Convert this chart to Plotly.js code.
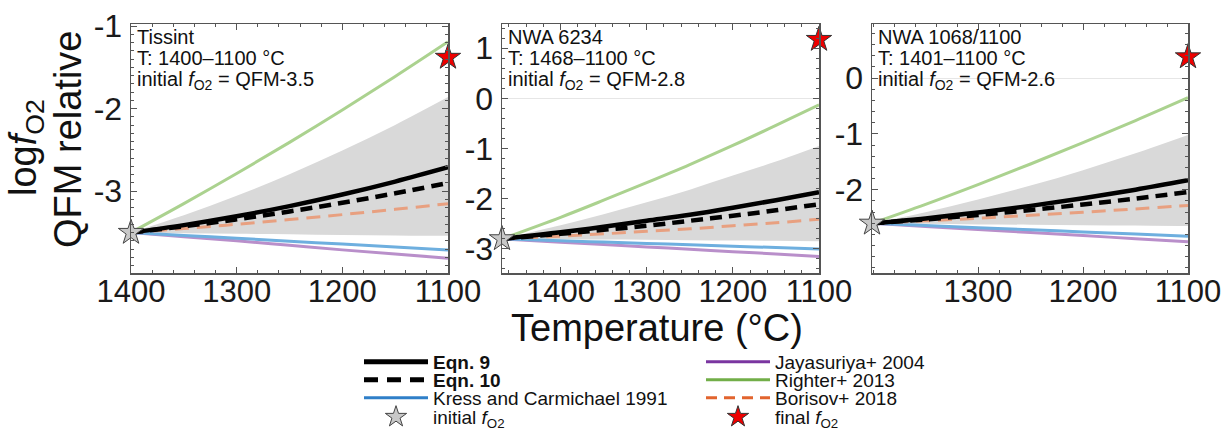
<!DOCTYPE html>
<html>
<head>
<meta charset="utf-8">
<script src="https://cdn.plot.ly/plotly-3.0.1.min.js"></script>
<style>html,body{margin:0;padding:0;background:#fff;}#chart{width:1228px;height:434px;}</style>
</head>
<body>
<div id="chart"></div>
<script>
// ---- Data ----
const panelNames = ["Tissint", "NWA 6234", "NWA 1068/1100"];
const panelTRange = ["T: 1400\u20131100 \u00b0C", "T: 1468\u20131100 \u00b0C", "T: 1401\u20131100 \u00b0C"];
const panelInitText = ["QFM-3.5", "QFM-2.8", "QFM-2.6"];

const T1 = [1400, 1350, 1300, 1250, 1200, 1150, 1100];
const T2 = [1468, 1400, 1350, 1300, 1250, 1200, 1150, 1100];
const T3 = [1401, 1350, 1300, 1250, 1200, 1150, 1100];

const eqn9_1    = [-3.5, -3.41, -3.303, -3.18, -3.04, -2.883, -2.71];
const eqn10_1   = [-3.5, -3.425, -3.34, -3.245, -3.14, -3.025, -2.90];
const kress_1   = [-3.5, -3.535, -3.57, -3.605, -3.64, -3.675, -3.71];
const jaya_1    = [-3.5, -3.55, -3.60, -3.655, -3.71, -3.76, -3.81];
const righter_1 = [-3.5, -3.15, -2.786, -2.408, -2.016, -1.61, -1.19];
const borisov_1 = [-3.5, -3.452, -3.40, -3.343, -3.283, -3.219, -3.15];
const bandHi_1  = [-3.5, -3.29, -3.055, -2.794, -2.508, -2.197, -1.86];
const bandLo_1  = [-3.5, -3.51, -3.515, -3.52, -3.53, -3.535, -3.54];

const eqn9_2    = [-2.8, -2.67, -2.56, -2.44, -2.32, -2.18, -2.03, -1.87];
const eqn10_2   = [-2.8, -2.70, -2.62, -2.54, -2.44, -2.34, -2.23, -2.11];
const kress_2   = [-2.8, -2.837, -2.864, -2.891, -2.918, -2.946, -2.973, -3.0];
const jaya_2    = [-2.8, -2.865, -2.912, -2.96, -3.007, -3.055, -3.102, -3.15];
const righter_2 = [-2.8, -2.37, -2.03, -1.68, -1.32, -0.94, -0.54, -0.13];
const borisov_2 = [-2.8, -2.745, -2.70, -2.65, -2.60, -2.54, -2.48, -2.41];
const bandHi_2  = [-2.8, -2.53, -2.31, -2.07, -1.82, -1.54, -1.26, -0.95];
const bandLo_2  = [-2.8, -2.81, -2.815, -2.82, -2.83, -2.835, -2.84, -2.85];

const eqn9_3    = [-2.6, -2.512, -2.408, -2.288, -2.151, -1.998, -1.83];
const eqn10_3   = [-2.6, -2.53, -2.451, -2.362, -2.264, -2.157, -2.04];
const kress_3   = [-2.6, -2.64, -2.68, -2.715, -2.755, -2.79, -2.83];
const jaya_3    = [-2.6, -2.655, -2.71, -2.765, -2.82, -2.875, -2.93];
const righter_3 = [-2.6, -2.26, -1.906, -1.538, -1.156, -0.76, -0.35];
const borisov_3 = [-2.6, -2.556, -2.508, -2.457, -2.402, -2.343, -2.28];
const bandHi_3  = [-2.6, -2.4, -2.175, -1.924, -1.648, -1.347, -1.02];
const bandLo_3  = [-2.6, -2.61, -2.62, -2.625, -2.635, -2.64, -2.65];

const initT   = [1400, 1468, 1401];
const initFO2 = [-3.5, -2.8, -2.6];
const finalT   = [1100, 1100, 1100];
const finalFO2 = [-1.38, 1.17, 0.38];

const xTicks1 = [1400, 1300, 1200, 1100];
const xTicks2 = [1400, 1300, 1200, 1100];
const xTicks3 = [1300, 1200, 1100];
const yTicks1 = [-1, -2, -3];
const yTicks2 = [1, 0, -1, -2, -3];
const yTicks3 = [0, -1, -2];

const legendNames = ["<b>Eqn. 9</b>", "<b>Eqn. 10</b>", "Kress and Carmichael 1991", "initial <i>f</i><sub>O2</sub>",
                     "Jayasuriya+ 2004", "Righter+ 2013", "Borisov+ 2018", "final <i>f</i><sub>O2</sub>"];

// ---- Styling ----
const FONT = "Liberation Sans, Arial, Helvetica, sans-serif";
const C = {
  eqn: "#000000",
  kress: "#6eafdf", jaya: "#b98fca", righter: "#abd28f", borisov: "#e8a080",
  kressL: "#2f7fc8", jayaL: "#7a35a0", righterL: "#72ae48", borisovL: "#e2642e",
  band: "#d9d9d9"
};

const panels = [
  {T: T1, e9: eqn9_1, e10: eqn10_1, kr: kress_1, ja: jaya_1, ri: righter_1, bo: borisov_1, hi: bandHi_1, lo: bandLo_1},
  {T: T2, e9: eqn9_2, e10: eqn10_2, kr: kress_2, ja: jaya_2, ri: righter_2, bo: borisov_2, hi: bandHi_2, lo: bandLo_2},
  {T: T3, e9: eqn9_3, e10: eqn10_3, kr: kress_3, ja: jaya_3, ri: righter_3, bo: borisov_3, hi: bandHi_3, lo: bandLo_3}
];

const traces = [];
panels.forEach((p, i) => {
  const xa = i === 0 ? "x" : "x" + (i + 1);
  const ya = i === 0 ? "y" : "y" + (i + 1);
  const base = {xaxis: xa, yaxis: ya, showlegend: false, hoverinfo: "skip", mode: "lines"};
  traces.push(Object.assign({}, base, {x: p.T, y: p.lo, line: {width: 0, color: C.band, shape: "spline"}}));
  traces.push(Object.assign({}, base, {x: p.T, y: p.hi, fill: "tonexty", fillcolor: C.band, line: {width: 0, color: C.band, shape: "spline"}}));
  traces.push(Object.assign({}, base, {x: p.T, y: p.ri, line: {width: 3, color: C.righter, shape: "spline"}}));
  traces.push(Object.assign({}, base, {x: p.T, y: p.ja, line: {width: 3, color: C.jaya, shape: "spline"}}));
  traces.push(Object.assign({}, base, {x: p.T, y: p.kr, line: {width: 3, color: C.kress, shape: "spline"}}));
  traces.push(Object.assign({}, base, {x: p.T, y: p.bo, line: {width: 3, color: C.borisov, dash: "14px,8px", shape: "spline"}}));
  traces.push(Object.assign({}, base, {x: p.T, y: p.e10, line: {width: 4.5, color: C.eqn, dash: "12px,7px", shape: "spline"}}));
  traces.push(Object.assign({}, base, {x: p.T, y: p.e9, line: {width: 4.5, color: C.eqn, shape: "spline"}}));
  traces.push({x: [initT[i]], y: [initFO2[i]], xaxis: xa, yaxis: ya, mode: "markers", showlegend: false, hoverinfo: "skip",
    cliponaxis: false, marker: {symbol: "star", size: 19, color: "#c8c8c8", line: {color: "#444", width: 1}}});
  traces.push({x: [finalT[i]], y: [finalFO2[i]], xaxis: xa, yaxis: ya, mode: "markers", showlegend: false, hoverinfo: "skip",
    cliponaxis: false, marker: {symbol: "star", size: 19, color: "#ee0000", line: {color: "#333", width: 1}}});
});

// legend-only entries, one legend each so rows can be packed like the reference
const legStyles = [
  {mode: "lines", line: {color: "#000", width: 5}},
  {mode: "lines", line: {color: "#000", width: 5, dash: "14px,9px"}},
  {mode: "lines", line: {color: C.kressL, width: 3}},
  {mode: "markers", marker: {symbol: "star", size: 16, color: "#c8c8c8", line: {color: "#444", width: 1}}},
  {mode: "lines", line: {color: C.jayaL, width: 3}},
  {mode: "lines", line: {color: C.righterL, width: 3}},
  {mode: "lines", line: {color: C.borisovL, width: 3, dash: "11px,7px"}},
  {mode: "markers", marker: {symbol: "star", size: 16, color: "#ee0000", line: {color: "#333", width: 1}}}
];
const W = 1228, H = 434;
const legRowsY = [362, 380, 398, 417];
const legendLayouts = {};
legendNames.forEach((name, k) => {
  const lid = k === 0 ? "legend" : "legend" + (k + 1);
  traces.push(Object.assign({x: [null], y: [null], name: name, legend: lid, showlegend: true, hoverinfo: "skip"}, legStyles[k]));
  const col = k < 4 ? 0 : 1;
  legendLayouts[lid] = {
    x: (col === 0 ? 359 : 701) / W, y: 1 - legRowsY[k % 4] / H, xanchor: "left", yanchor: "middle",
    font: {size: 19, color: "#111", family: FONT}, itemwidth: 64, bgcolor: "rgba(0,0,0,0)", borderwidth: 0
  };
});

const yDom = [1 - 273 / H, 1 - 24 / H];
const xDoms = [[131 / W, 448 / W], [502 / W, 819 / W], [872 / W, 1188 / W]];

function xAxis(i, range, ticks) {
  return {
    domain: xDoms[i], range: range, anchor: i === 0 ? "y" : "y" + (i + 1),
    tickvals: ticks, ticktext: ticks.map(String),
    showline: true, linecolor: "#555", linewidth: 1.5, mirror: "ticks",
    ticks: "inside", ticklen: 6, tickcolor: "#555", tickwidth: 1,
    minor: {ticks: "inside", ticklen: 3, dtick: 20, tickcolor: "#555", tickwidth: 1},
    showgrid: false, zeroline: false,
    tickfont: {size: 31, color: "#1a1a1a", family: FONT}, ticklabelstandoff: -10
  };
}
function yAxis(i, range, ticks, minorStep) {
  return {
    domain: yDom, range: range, anchor: i === 0 ? "x" : "x" + (i + 1),
    tickvals: ticks, ticktext: ticks.map(v => String(v)),
    showline: true, linecolor: "#555", linewidth: 1.5, mirror: "ticks",
    ticks: "inside", ticklen: 6, tickcolor: "#555", tickwidth: 1,
    minor: {ticks: "inside", ticklen: 3, dtick: minorStep, tickcolor: "#555", tickwidth: 1},
    showgrid: false, zeroline: true, zerolinecolor: "#e6e6e6", zerolinewidth: 1,
    tickfont: {size: 32, color: "#1a1a1a", family: FONT}, ticklabelstandoff: 1
  };
}

const annotations = [];
panels.forEach((p, i) => {
  const xr = (i === 0 ? "x" : "x" + (i + 1)) + " domain";
  const yr = (i === 0 ? "y" : "y" + (i + 1)) + " domain";
  const lines = [panelNames[i], panelTRange[i], "initial <i>f</i><sub>O2</sub> = " + panelInitText[i]];
  const ys = [0.948, 0.862, 0.774];
  lines.forEach((t, k) => annotations.push({
    xref: xr, yref: yr, x: 0.012, y: ys[k], xanchor: "left", yanchor: "middle",
    text: t, showarrow: false, font: {size: 20, color: "#111", family: FONT}
  }));
});
annotations.push({xref: "paper", yref: "paper", x: 26 / W, y: 1 - 148 / H, text: "log<i>f</i><sub>O2</sub>",
  textangle: -90, showarrow: false, xanchor: "center", yanchor: "middle", font: {size: 38, color: "#111", family: FONT}});
annotations.push({xref: "paper", yref: "paper", x: 68 / W, y: 1 - 140 / H, text: "QFM relative",
  textangle: -90, showarrow: false, xanchor: "center", yanchor: "middle", font: {size: 38, color: "#111", family: FONT}});
annotations.push({xref: "paper", yref: "paper", x: 657 / W, y: 1 - 328 / H, text: "Temperature (\u00b0C)",
  showarrow: false, xanchor: "center", yanchor: "middle", font: {size: 38, color: "#111", family: FONT}});

const layout = Object.assign({
  width: W, height: H, margin: {l: 0, r: 0, t: 0, b: 0, autoexpand: false},
  paper_bgcolor: "#fff", plot_bgcolor: "#fff",
  font: {family: FONT, color: "#111"},
  xaxis: xAxis(0, [1400, 1100], xTicks1),
  xaxis2: xAxis(1, [1468, 1100], xTicks2),
  xaxis3: xAxis(2, [1401, 1100], xTicks3),
  yaxis: yAxis(0, [-3.99, -0.975], yTicks1, 0.1),
  yaxis2: yAxis(1, [-3.48, 1.48], yTicks2, 0.2),
  yaxis3: yAxis(2, [-3.49, 0.97], yTicks3, 0.2),
  annotations: annotations,
  showlegend: true
}, legendLayouts);

Plotly.newPlot("chart", traces, layout, {displayModeBar: false, staticPlot: true});
</script>
</body>
</html>
